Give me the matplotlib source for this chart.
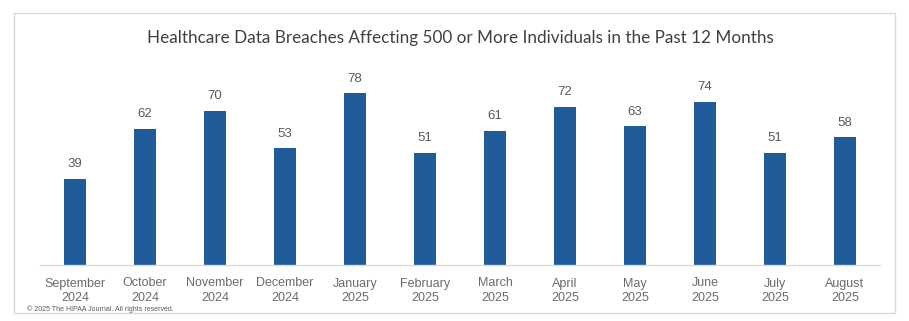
import matplotlib
matplotlib.use("Agg")
import matplotlib.pyplot as plt
from matplotlib.patches import Rectangle

months = ["September\n2024", "October\n2024", "November\n2024", "December\n2024",
          "January\n2025", "February\n2025", "March\n2025", "April\n2025",
          "May\n2025", "June\n2025", "July\n2025", "August\n2025"]
breaches = [39, 62, 70, 53, 78, 51, 61, 72, 63, 74, 51, 58]

W, H = 909, 321
fig = plt.figure(figsize=(W / 100, H / 100), dpi=100)
fig.patch.set_facecolor("white")

# chart frame
fig.patches.append(Rectangle((14 / W, 1 - 313 / H), 881 / W, 300 / H,
                             transform=fig.transFigure, fill=False,
                             edgecolor="#d9d9d9", linewidth=1.0))

ax = fig.add_axes([40 / W, 1 - 265 / H, 840 / W, 220 / H])
x = range(len(months))
bars = ax.bar(x, breaches, width=0.31, color="#1f5c99")
ax.set_xlim(-0.5, len(months) - 0.5)
ax.set_ylim(0, 100)

for xi, v in zip(x, breaches):
    ax.text(xi, v + 4, str(v), ha="center", va="bottom",
            fontsize=9.5, color="#595959", family="Liberation Sans")

ax.set_xticks(list(x))
ax.set_xticklabels(months, fontsize=9, color="#6b6b6b", linespacing=1.3,
                   family="Liberation Sans")
ax.tick_params(axis="x", length=0, pad=9)
ax.set_yticks([])
for side in ["left", "right", "top"]:
    ax.spines[side].set_visible(False)
ax.spines["bottom"].set_color("#d9d9d9")
ax.spines["bottom"].set_linewidth(1.0)

fig.text(460 / W, 1 - 38 / H,
         "Healthcare Data Breaches Affecting 500 or More Individuals in the Past 12 Months",
         ha="center", va="center", fontsize=12.3, color="#404040",
         family=["Lato", "DejaVu Sans"])

fig.text(27 / W, 1 - 309 / H, "© 2025 The HIPAA Journal. All rights reserved.",
         ha="left", va="center", fontsize=5, color="#595959",
         family="Liberation Sans")

fig.savefig("out.png", dpi=100)
